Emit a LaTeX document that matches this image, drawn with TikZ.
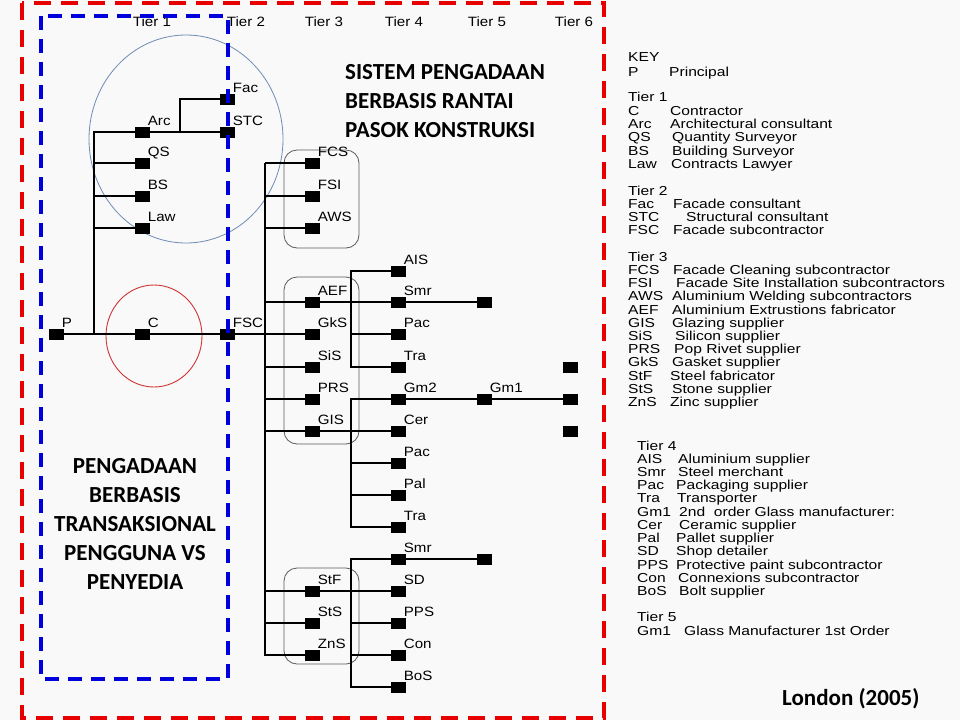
\documentclass[tikz,border=0pt]{standalone}
\usepackage{fontspec}
\setmainfont{Liberation Sans}
\newfontfamily\keyf[FakeStretch=1.2]{Liberation Sans}
\newfontfamily\labf[FakeStretch=1.12]{Liberation Sans}
\newfontfamily\headf{Carlito}
\usetikzlibrary{calc}
\definecolor{bgc}{RGB}{249,249,249}
\definecolor{redd}{RGB}{232,0,0}
\definecolor{bluee}{RGB}{0,0,220}
\definecolor{circb}{RGB}{110,140,180}
\definecolor{circr}{RGB}{210,50,50}
\definecolor{boxg}{RGB}{90,90,90}
\tikzset{
  sq/.style={rectangle,fill=black,minimum width=15pt,minimum height=11pt,inner sep=0pt},
  lab/.style={font=\labf\fontsize{13.5}{14}\selectfont,inner sep=0pt,anchor=base west,xshift=-2pt,yshift=0.5pt},
  tierl/.style={font=\labf\fontsize{13.5}{14}\selectfont,inner sep=0pt,anchor=base},
  ln/.style={line width=1.6pt,black},
  keyt/.style={font=\keyf\fontsize{13}{13}\selectfont,inner sep=0pt,anchor=base west},
  head/.style={font=\headf\bfseries\fontsize{23}{23}\selectfont,inner sep=0pt},
  grpbox/.style={boxg,line width=0.8pt,rounded corners=13pt},
}
\newcommand\sqn[4]{\node[sq,label={[lab]north east:#4}] (#1) at (#2,#3) {};}
\newcommand\sqe[3]{\node[sq] (#1) at (#2,#3) {};}
\newcommand\kl[5]{\node[keyt] (#1a) at (628,#2) {#3}; \node[keyt] (#1b) at (#4,#2) {#5};}
\newcommand\klb[5]{\node[keyt] (#1a) at (637,#2) {#3}; \node[keyt] (#1b) at (#4,#2) {#5};}
\begin{document}
\begin{tikzpicture}[x=1pt,y=-1pt]
\useasboundingbox[fill=bgc] (0,0) rectangle (960,720);

% circles and group boxes
\draw[circb,line width=0.8pt] (186,139) ellipse [x radius=97pt,y radius=104pt];
\draw[circr,line width=0.9pt] (154,336) ellipse [x radius=48pt,y radius=51pt];
\draw[grpbox] (284,150) rectangle (359,248);
\draw[grpbox] (284,277) rectangle (359,444);
\draw[grpbox] (284,568) rectangle (359,664);

% tier headings
\node[tierl] (tr1) at (152,26) {Tier 1};
\node[tierl] (tr2) at (246,26) {Tier 2};
\node[tierl] (tr3) at (324,26) {Tier 3};
\node[tierl] (tr4) at (404,26) {Tier 4};
\node[tierl] (tr5) at (487,26) {Tier 5};
\node[tierl] (tr6) at (574,26) {Tier 6};

% nodes
\sqn{P}{56}{334}{P}
\sqn{C}{142}{334}{C}
\sqn{FSC}{227}{334}{FSC}
\sqn{Arc}{142}{132}{Arc}
\sqn{QS}{142}{163}{QS}
\sqn{BS}{142}{196}{BS}
\sqn{Law}{142}{228}{Law}
\sqn{Fac}{227}{99}{Fac}
\sqn{STC}{227}{132}{STC}
\sqn{FCS}{312}{163}{FCS}
\sqn{FSI}{312}{196}{FSI}
\sqn{AWS}{312}{228}{AWS}
\sqn{AEF}{312}{302}{AEF}
\sqn{GkS}{312}{334}{GkS}
\sqn{SiS}{312}{367}{SiS}
\sqn{PRS}{312}{399}{PRS}
\sqn{GIS}{312}{431}{GIS}
\sqn{StF}{312}{591}{StF}
\sqn{StS}{312}{623}{StS}
\sqn{ZnS}{312}{655}{ZnS}
\sqn{AIS}{398}{271}{AIS}
\sqn{SmrA}{398}{302}{Smr}
\sqn{PacA}{398}{334}{Pac}
\sqn{TraA}{398}{367}{Tra}
\sqn{Gm2}{398}{399}{Gm2}
\sqn{Cer}{398}{431}{Cer}
\sqn{PacB}{398}{463}{Pac}
\sqn{Pal}{398}{495}{Pal}
\sqn{TraB}{398}{527}{Tra}
\sqn{SmrB}{398}{559}{Smr}
\sqn{SD}{398}{591}{SD}
\sqn{PPS}{398}{623}{PPS}
\sqn{Con}{398}{655}{Con}
\sqn{BoS}{398}{687}{BoS}
\sqe{TVa}{484}{302}
\sqn{Gm1}{484}{399}{Gm1}
\sqe{TVb}{484}{559}
\sqe{T6a}{570}{367}
\sqe{T6b}{570}{399}
\sqe{T6c}{570}{431}

% junctions
\coordinate (j1) at (94,334);
\coordinate (j2) at (180,132);
\coordinate (t3) at (265,334);
\coordinate (t4) at (351,334);

% connectors
\draw[ln] (P.center) -- (GkS.center);
\draw[ln] (j1) -- (j1 |- Arc) -- (STC.center);
\foreach \n in {QS,BS,Law} \draw[ln] (j1 |- \n) -- (\n.center);
\draw[ln] (j2) |- (Fac.center);
\draw[ln] (t3 |- FCS) -- (t3 |- ZnS) -- (ZnS.center);
\foreach \n in {FCS,FSI,AWS,SiS,PRS,StS} \draw[ln] (t3 |- \n) -- (\n.center);
\draw[ln] (t3 |- AEF) -- (TVa.center);
\draw[ln] (t3 |- GIS) -- (Cer.center);
\draw[ln] (t3 |- StF) -- (SD.center);
\draw[ln] (AIS.center) -- (t4 |- AIS) -- (t4 |- TraA) -- (TraA.center);
\draw[ln] (t4 |- PacA) -- (PacA.center);
\draw[ln] (T6b.center) -- (t4 |- Gm2) -- (t4 |- TraB) -- (TraB.center);
\foreach \n in {PacB,Pal} \draw[ln] (t4 |- \n) -- (\n.center);
\draw[ln] (TVb.center) -- (t4 |- SmrB) -- (t4 |- BoS) -- (BoS.center);
\foreach \n in {PPS,Con} \draw[ln] (t4 |- \n) -- (\n.center);

% headings
\node[head,anchor=base west] (h1) at (345,79) {SISTEM PENGADAAN};
\node[head,anchor=base west] (h2) at (345,108) {BERBASIS RANTAI};
\node[head,anchor=base west] (h3) at (345,137) {PASOK KONSTRUKSI};
\node[head,anchor=base] (g1) at (135,473) {PENGADAAN};
\node[head,anchor=base] (g2) at (135,502) {BERBASIS};
\node[head,anchor=base] (g3) at (135,531) {TRANSAKSIONAL};
\node[head,anchor=base] (g4) at (135,560) {PENGGUNA VS};
\node[head,anchor=base] (g5) at (135,589) {PENYEDIA};
\node[head,anchor=base west] (lon) at (782,705) {London (2005)};

% key
\node[keyt] (kkey) at (628,61.5) {KEY};
\kl{kP}{76.5}{P}{669}{Principal}
\node[keyt] (kt1) at (628,101.5) {Tier 1};
\kl{kC}{115.5}{C}{670}{Contractor}
\kl{kArc}{128.5}{Arc}{670}{Architectural consultant}
\kl{kQS}{141.5}{QS}{672}{Quantity Surveyor}
\kl{kBS}{155.5}{BS}{672}{Building Surveyor}
\kl{kLaw}{168.5}{Law}{671}{Contracts Lawyer}
\node[keyt] (kt2) at (628,195.5) {Tier 2};
\kl{kFac}{208.5}{Fac}{673}{Facade consultant}
\kl{kSTC}{221.5}{STC}{686}{Structural consultant}
\kl{kFSC}{234.5}{FSC}{673}{Facade subcontractor}
\node[keyt] (kt3) at (628,261.5) {Tier 3};
\kl{kFCS}{274.5}{FCS}{673}{Facade Cleaning subcontractor}
\kl{kFSI}{287.5}{FSI}{676}{Facade Site Installation subcontractors}
\kl{kAWS}{300.5}{AWS}{672}{Aluminium Welding subcontractors}
\kl{kAEF}{314.5}{AEF}{672}{Aluminium Extrustions fabricator}
\kl{kGIS}{327.5}{GIS}{672}{Glazing supplier}
\kl{kSiS}{340.5}{SiS}{675}{Silicon supplier}
\kl{kPRS}{353.5}{PRS}{674}{Pop Rivet supplier}
\kl{kGkS}{366.5}{GkS}{672}{Gasket supplier}
\kl{kStF}{380.5}{StF}{670}{Steel fabricator}
\kl{kStS}{393.5}{StS}{672}{Stone supplier}
\kl{kZnS}{406.5}{ZnS}{670}{Zinc supplier}
\node[keyt] (kt4) at (637,450.5) {Tier 4};
\klb{kAIS}{463.5}{AIS}{678}{Aluminium supplier}
\klb{kSmr}{476.5}{Smr}{678}{Steel merchant}
\klb{kPac}{489.5}{Pac}{676}{Packaging supplier}
\klb{kTra}{502.5}{Tra}{677}{Transporter}
\klb{kGmA}{516.5}{Gm1}{679}{2nd\ \ order Glass manufacturer:}
\klb{kCer}{529.5}{Cer}{679}{Ceramic supplier}
\klb{kPal}{542.5}{Pal}{676}{Pallet supplier}
\klb{kSD}{555.5}{SD}{676}{Shop detailer}
\klb{kPPS}{569.5}{PPS}{676}{Protective paint subcontractor}
\klb{kCon}{582.5}{Con}{678}{Connexions subcontractor}
\klb{kBoS}{595.5}{BoS}{679}{Bolt supplier}
\node[keyt] (kt5) at (637,621.5) {Tier 5};
\klb{kGmB}{635.5}{Gm1}{684}{Glass Manufacturer 1st Order}

% dashed frames
\draw[bluee,line width=4pt,dash pattern=on 14pt off 9pt] (41,16) rectangle (228,679);
\draw[redd,line width=4pt,dash pattern=on 17pt off 10pt] (22,3) rectangle (604,718);
\end{tikzpicture}
\end{document}
